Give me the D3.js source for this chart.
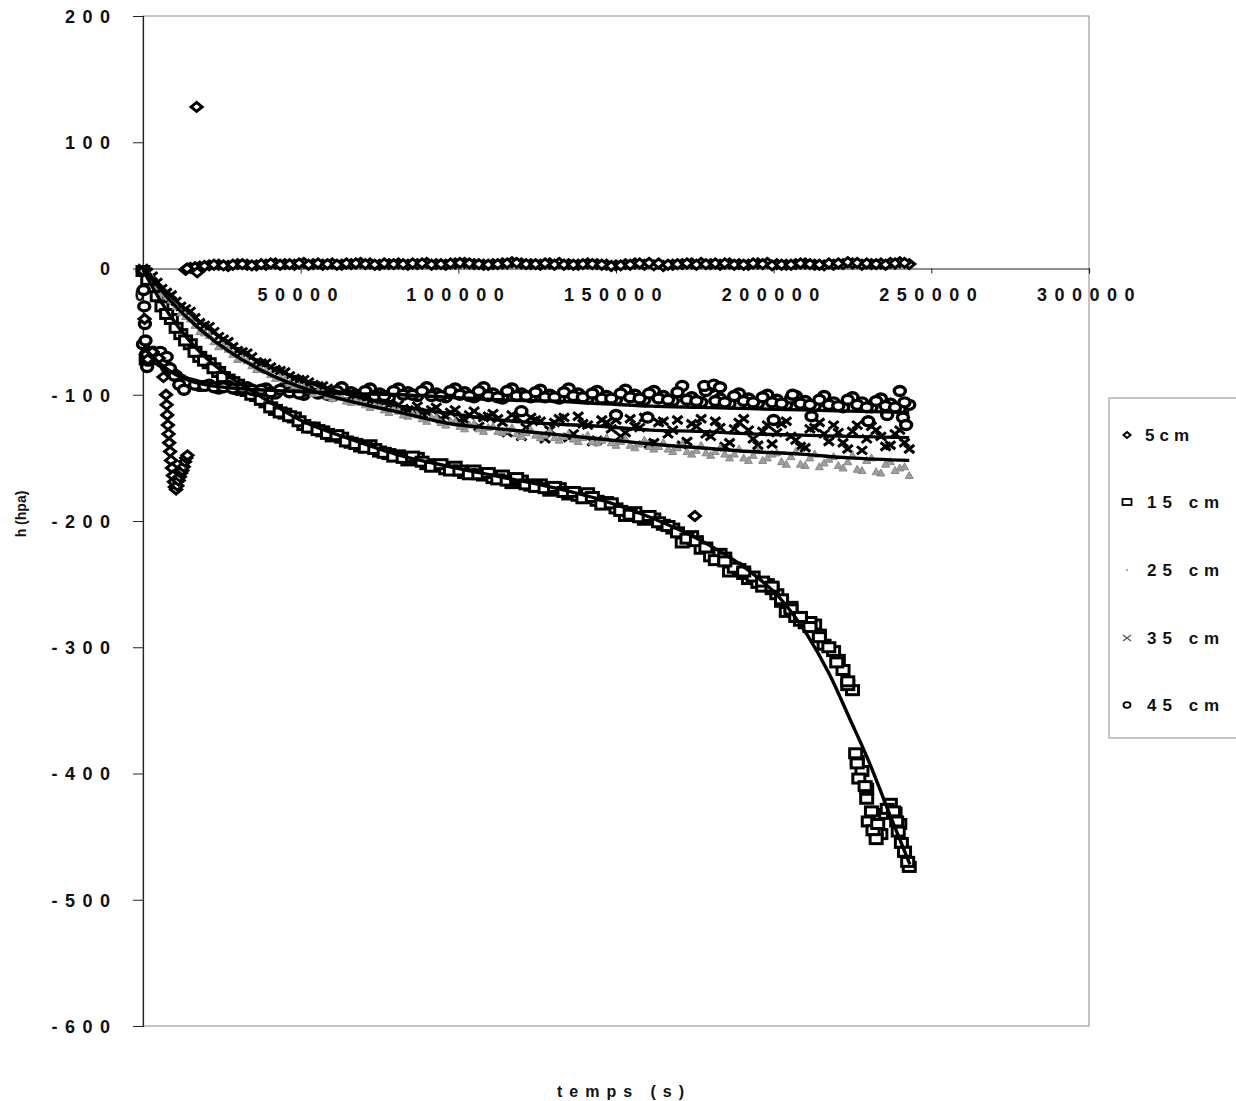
<!DOCTYPE html>
<html><head><meta charset="utf-8">
<script src="https://cdn.jsdelivr.net/npm/d3@7/dist/d3.min.js"></script>
<style>
html,body{margin:0;padding:0;background:#fff;}
svg text{font-family:"Liberation Sans",Arial,sans-serif;font-weight:bold;fill:#111;}
</style></head><body>
<svg id="chart" width="1236" height="1101"></svg>
<script>
// ---------- DATA ----------
const seriesNames = ["5cm", "15 cm", "25 cm", "35 cm", "45 cm"];
const xTicks = [0, 50000, 100000, 150000, 200000, 250000, 300000];
const yTicks = [200, 100, 0, -100, -200, -300, -400, -500, -600];
const xTitle = "temps (s)";
const yTitle = "h (hpa)";

// sampling times (s)
const tGrid = [0,3000,6000,9000,12000,15000,18000,21000,24000,27000,30000,33000,36000,39000,42000,45000,48000,51000,54000,57000,60000,63000,66000,69000,72000,75000,78000,81000,84000,87000,90000,93000,96000,99000,102000,105000,108000,111000,114000,117000,120000,123000,126000,129000,132000,135000,138000,141000,144000,147000,150000,153000,156000,159000,162000,165000,168000,171000,174000,177000,180000,183000,186000,189000,192000,195000,198000,201000,204000,207000,210000,213000,216000,219000,222000,225000,228000,231000,234000,237000,240000,243000];
const tHalf = [1500,4500,7500,10500,13500,16500,19500,22500,25500,28500,31500,34500,37500,40500,43500,46500,49500,52500,55500,58500,61500,64500,67500,70500,73500,76500,79500,82500,85500,88500,91500,94500,97500,100500,103500,106500,109500,112500,115500,118500,121500,124500,127500,130500,133500,136500,139500,142500,145500,148500,151500,154500,157500,160500,163500,166500,169500,172500,175500,178500,181500,184500,187500,190500,193500,196500,199500,202500,205500,208500,211500,214500,217500,220500,223500,226500,229500,232500,235500,238500,241500];

// 5 cm (diamonds)
const h5 = [null,null,null,null,null,0.5,1.5,2.5,3,2,3.5,3,2.5,3,4,3.5,3,4.5,3.5,3,4,3,3.5,4.5,4,3,3.5,4,3,3.5,4.5,3.5,3,4,4.5,3.5,3,3.5,4,5,4,3.5,3,4,4.5,3.5,3,4,3.5,3,2.5,3.5,4,3,2.5,2,3,3.5,4,4.5,3.5,3,4,3.5,3,4,4.5,3.5,3,3.5,4,3,2.5,3,3.5,4,3,3.5,4,4.5,5,3.5];
const h5b = [null,null,null,null,null,1,2,3,2.5,3,3.5,2.5,3.5,4,3,3.5,4,3,4,3.5,3,4,4,3.5,3,4,3.5,3.5,4,4,3,3.5,4,4.5,4,3.5,3,3.5,4,4.5,3.5,3.5,4,3,3,3,3.5,3.5,3,2,2.5,3,4,4.5,4,3,3.5,4,3,3.5,4,4,3,3,4,3.5,2.5,3,3,4,3.5,3,4,4,5,4.5,4,3.5,3,4,4.5];
const early5 = [[0,-2],[500,-40],[1000,-68],[1500,-72],[3000,-66],[5000,-71],[6500,-86],[7300,-100],[7500,-108],[7700,-116],[7900,-124],[8100,-131],[8300,-138],[8600,-145],[8900,-152],[9200,-158],[9500,-164],[9800,-169],[10100,-173],[10500,-175],[10900,-172],[11300,-168],[11700,-165],[12100,-162],[12500,-160],[12900,-157],[13300,-153],[13700,-150],[14100,-148],[13500,-1],[14000,0]];
const outliers5 = [[17000,128],[17200,-3],[175000,-196]];

// 15 cm (squares)
const h15 = [-2,-15,-30,-40,-52,-60,-70,-75,-82,-88,-92,-97,-101,-106,-112,-115,-118,-124,-126,-129,-133,-134,-138,-141,-140,-145,-147,-148,-152,-150,-155,-156,-159,-157,-162,-160,-164,-166,-164,-170,-168,-172,-171,-176,-174,-179,-180,-178,-184,-185,-190,-196,-193,-199,-198,-203,-206,-217,-212,-222,-228,-226,-240,-238,-246,-249,-250,-258,-272,-276,-281,-282,-298,-303,-318,-334,-398,-430,-448,-424,-440,-474];
const h15b = [-9,-22,-36,-47,-57,-66,-73,-79,-86,-90,-95,-100,-104,-110,-114,-117,-121,-126,-128,-131,-132,-137,-139,-142,-143,-146,-149,-150,-149,-153,-157,-155,-160,-160,-163,-163,-162,-167,-168,-166,-171,-173,-174,-173,-177,-177,-182,-181,-187,-186,-192,-195,-197,-196,-201,-204,-209,-214,-216,-221,-231,-229,-237,-242,-244,-252,-254,-264,-268,-279,-280,-290,-300,-310,-330,-390,-412,-446,-432,-431,-462];
const extra15 = [[1000,-72],[1800,-66],[184500,-232],[190500,-240],[196500,-248],[199500,-252],[202500,-262],[205500,-270],[208500,-276],[211500,-284],[214500,-292],[220000,-312],[223500,-327],[226000,-384],[226500,-392],[227000,-404],[229000,-410],[229500,-420],[230000,-438],[231500,-445],[232500,-452],[233000,-440],[236000,-428],[238000,-430],[239000,-438],[239500,-446],[240500,-455],[241500,-462],[242500,-470]];

// 25 cm (grey)
const h25 = [0,-8,-20,-25,-35,-40,-50,-53,-62,-64,-72,-73,-80,-81,-87,-88,-93,-94,-99,-98,-103,-102,-106,-106,-110,-109,-114,-113,-117,-116,-121,-118,-124,-121,-127,-123,-129,-125,-130,-126,-133,-128,-134,-129,-136,-131,-137,-132,-138,-134,-140,-135,-142,-136,-143,-138,-145,-139,-147,-140,-148,-142,-150,-143,-152,-144,-150,-146,-155,-145,-156,-147,-154,-149,-158,-148,-160,-150,-162,-153,-158,-164];
const h25b = [-4,-14,-22,-30,-38,-45,-51,-58,-61,-68,-71,-77,-80,-84,-86,-91,-93,-96,-97,-101,-101,-105,-104,-108,-108,-112,-111,-116,-115,-119,-118,-122,-121,-125,-124,-127,-126,-129,-128,-131,-130,-132,-132,-134,-133,-135,-134,-137,-136,-138,-137,-140,-139,-141,-141,-143,-142,-145,-144,-146,-145,-147,-147,-150,-148,-152,-147,-153,-149,-155,-150,-157,-151,-156,-153,-159,-152,-161,-155,-160,-157];

// 35 cm (crosses)
const h35 = [0,-6,-16,-21,-30,-34,-43,-46,-54,-58,-65,-67,-74,-75,-80,-82,-87,-88,-92,-93,-97,-97,-101,-101,-105,-104,-108,-108,-112,-109,-114,-110,-117,-112,-120,-113,-118,-115,-122,-116,-133,-118,-121,-128,-119,-134,-117,-124,-136,-122,-120,-130,-125,-118,-138,-121,-128,-140,-123,-119,-133,-126,-138,-122,-128,-140,-124,-130,-121,-136,-142,-126,-131,-124,-138,-129,-144,-125,-133,-140,-128,-143];
const h35b = [-3,-11,-19,-26,-32,-39,-45,-50,-56,-62,-66,-70,-75,-78,-81,-85,-88,-90,-93,-95,-98,-99,-103,-102,-106,-106,-110,-111,-113,-115,-112,-119,-114,-121,-116,-125,-117,-119,-130,-118,-126,-120,-135,-122,-118,-131,-123,-137,-120,-127,-133,-119,-126,-139,-122,-131,-120,-137,-125,-131,-121,-141,-127,-119,-135,-129,-139,-123,-133,-141,-127,-122,-137,-130,-143,-124,-135,-128,-141,-131,-138];

// 45 cm (circles)
const h45 = [-60,-70,-74,-82,-88,-91,-93,-92,-95,-93,-96,-94,-97,-95,-99,-94,-97,-100,-94,-98,-101,-94,-98,-101,-95,-99,-102,-95,-98,-101,-94,-99,-102,-95,-98,-102,-94,-99,-103,-95,-99,-102,-96,-100,-103,-95,-99,-103,-97,-101,-104,-96,-100,-104,-97,-101,-105,-93,-102,-106,-94,-103,-107,-99,-103,-107,-100,-104,-108,-101,-105,-109,-101,-106,-110,-102,-106,-110,-103,-107,-111,-108];
const h45b = [-66,-72,-78,-85,-90,-92,-93,-94,-94,-95,-95,-96,-96,-98,-96,-98,-99,-97,-99,-100,-97,-100,-100,-97,-101,-101,-97,-100,-100,-97,-101,-101,-97,-100,-101,-97,-101,-102,-97,-101,-101,-98,-102,-102,-98,-101,-102,-99,-103,-103,-99,-102,-103,-99,-103,-104,-98,-104,-105,-97,-105,-106,-101,-105,-106,-102,-106,-107,-103,-107,-108,-104,-108,-109,-104,-108,-110,-105,-109,-110,-106];
const extra45 = [[200,-17],[400,-30],[600,-44],[800,-57],[1000,-68],[1300,-78],[1600,-73],[5500,-66],[6500,-74],[7500,-70],[8500,-79],[10000,-85],[11500,-92],[13000,-96],[120000,-113],[150000,-116],[160000,-118],[178000,-93],[181000,-92],[183000,-94],[200000,-120],[206000,-100],[212000,-117],[230000,-121],[236000,-116],[240000,-97],[241000,-118],[242000,-124]];

// fitted curves
const fit15 = [[0,-1],[5400,-25],[11700,-48],[18000,-66],[27600,-86],[37100,-101],[49800,-120],[65600,-135],[81500,-148],[97400,-157],[113200,-165],[129100,-173],[144900,-183],[160800,-197],[176600,-215],[192500,-240],[202000,-261],[210600,-290],[217800,-322],[224200,-357],[229600,-387],[236900,-433],[243200,-472]];
const fit25 = [[0,0],[8500,-25],[18000,-48],[27500,-66],[37000,-80],[50000,-94],[65500,-105],[81500,-114],[97500,-123],[113000,-127],[129000,-131],[145000,-135],[161000,-139],[176500,-142],[192500,-145],[208500,-147],[224000,-150],[243000,-152]];
const fit35 = [[0,0],[8500,-21],[18000,-42],[27500,-60],[37000,-74],[50000,-88],[65500,-100],[81500,-109],[97500,-115],[113000,-120],[129000,-123],[145000,-125],[161000,-128],[176500,-129],[192500,-131],[208500,-132],[224000,-133],[243000,-134]];
const fit45 = [[0,-62],[4000,-72],[9000,-82],[15000,-89],[22000,-93],[30000,-95],[45000,-97],[65000,-99],[81500,-100],[97500,-102],[113000,-104],[129000,-105],[145000,-107],[161000,-109],[176500,-110],[192500,-111],[208500,-112],[224000,-113],[243000,-114]];

// ---------- CHART ----------
const svg = d3.select("#chart");
const L = 143, R = 1089, T = 16, B = 1026;
const x = d3.scaleLinear().domain([0, 300000]).range([L, R]);
const y = d3.scaleLinear().domain([-600, 200]).range([B, T]);
const FONT = '"Liberation Sans", Arial, sans-serif';

// plot area frame
svg.append("rect").attr("x", L).attr("y", T).attr("width", R - L).attr("height", B - T)
  .attr("fill", "none").attr("stroke", "#8a8a8a").attr("stroke-width", 1);

// y axis
const yAxis = svg.append("g").attr("transform", `translate(${L},0)`)
  .call(d3.axisLeft(y).tickValues(yTicks).tickSize(10).tickFormat(d => String(d)));
yAxis.select(".domain").attr("stroke", "#222").attr("stroke-width", 1.2);
yAxis.selectAll(".tick line").attr("stroke", "#222");
yAxis.selectAll(".tick text").attr("x", -25.5).attr("dy", "0.36em")
  .style("font-size", "18px").style("letter-spacing", "7.5px").style("font-family", FONT).style("font-weight", "bold").attr("fill", "#111");

// x axis at h = 0
const xAxis = svg.append("g").attr("transform", `translate(0,${y(0)})`)
  .call(d3.axisBottom(x).tickValues(xTicks).tickSize(5).tickPadding(15).tickFormat(d => String(d)));
xAxis.select(".domain").attr("stroke", "#222").attr("stroke-width", 1.2);
xAxis.selectAll(".tick line").attr("stroke", "#222");
xAxis.selectAll(".tick text").attr("dx", "0")
  .style("font-size", "18px").style("letter-spacing", "7.5px").style("font-family", FONT).style("font-weight", "bold").attr("fill", "#111");

// assemble points
const pts = (ts, h) => ts.map((t, i) => [t, h[i]]).filter(d => d[1] !== null);
const d5 = pts(tGrid, h5).concat(pts(tHalf, h5b), early5, outliers5);
const d15 = pts(tGrid, h15).concat(pts(tHalf, h15b), extra15);
const d25 = pts(tGrid, h25).concat(pts(tHalf, h25b));
const d35 = pts(tGrid, h35).concat(pts(tHalf, h35b));
const d45 = pts(tGrid, h45).concat(pts(tHalf, h45b), extra45);

const plot = svg.append("g");

// markers
function diamond(g, data) {
  g.selectAll(null).data(data).enter().append("path")
    .attr("d", d => `M${x(d[0])},${y(d[1]) - 4.5}L${x(d[0]) + 5.5},${y(d[1])}L${x(d[0])},${y(d[1]) + 4.5}L${x(d[0]) - 5.5},${y(d[1])}Z`)
    .attr("fill", "#fff").attr("stroke", "#000").attr("stroke-width", 3);
}
function square(g, data) {
  g.selectAll(null).data(data).enter().append("rect")
    .attr("x", d => x(d[0]) - 6).attr("y", d => y(d[1]) - 4.5).attr("width", 12).attr("height", 9)
    .attr("fill", "#fff").attr("stroke", "#000").attr("stroke-width", 3);
}
function greyMark(g, data) {
  g.selectAll(null).data(data).enter().append("path")
    .attr("d", d => `M${x(d[0]) - 4},${y(d[1]) + 3}L${x(d[0])},${y(d[1]) - 4}L${x(d[0]) + 4},${y(d[1]) + 3}Z`)
    .attr("fill", "#a0a0a0").attr("stroke", "#888").attr("stroke-width", 1);
}
function cross(g, data) {
  g.selectAll(null).data(data).enter().append("path")
    .attr("d", d => `M${x(d[0]) - 5},${y(d[1]) - 4}L${x(d[0]) + 5},${y(d[1]) + 4}M${x(d[0]) - 5},${y(d[1]) + 4}L${x(d[0]) + 5},${y(d[1]) - 4}`)
    .attr("fill", "none").attr("stroke", "#000").attr("stroke-width", 3);
}
function circle(g, data) {
  g.selectAll(null).data(data).enter().append("ellipse")
    .attr("cx", d => x(d[0])).attr("cy", d => y(d[1])).attr("rx", 5.5).attr("ry", 4.5)
    .attr("fill", "#fff").attr("stroke", "#000").attr("stroke-width", 3.4);
}

square(plot.append("g"), d15);
cross(plot.append("g"), d35);
circle(plot.append("g"), d45);
greyMark(plot.append("g"), d25);
diamond(plot.append("g"), d5);

// fitted lines
const line = d3.line().x(d => x(d[0])).y(d => y(d[1])).curve(d3.curveMonotoneX);
[fit15, fit25, fit35, fit45].forEach(f => {
  plot.append("path").datum(f).attr("d", line).attr("fill", "none")
    .attr("stroke", "#000").attr("stroke-width", 3.4);
});

// axis titles
svg.append("text").attr("x", 624).attr("y", 1097).attr("text-anchor", "middle")
  .style("font-size", "16px").style("letter-spacing", "7px").text(xTitle);
svg.append("text").attr("transform", "translate(26,514) rotate(-90)").attr("text-anchor", "middle")
  .style("font-size", "14px").text(yTitle);

// legend
const lg = svg.append("g");
lg.append("rect").attr("x", 1109).attr("y", 398).attr("width", 140).attr("height", 340)
  .attr("fill", "#fff").attr("stroke", "#8a8a8a").attr("stroke-width", 1);
const legY = [435, 502, 570, 638, 705];
const legMark = [
  (g, cx, cy) => g.append("path").attr("d", `M${cx},${cy - 3}L${cx + 3.5},${cy}L${cx},${cy + 3}L${cx - 3.5},${cy}Z`).attr("fill", "#fff").attr("stroke", "#000").attr("stroke-width", 2),
  (g, cx, cy) => g.append("rect").attr("x", cx - 4.5).attr("y", cy - 3).attr("width", 9).attr("height", 6).attr("fill", "#fff").attr("stroke", "#000").attr("stroke-width", 1.8),
  (g, cx, cy) => g.append("circle").attr("cx", cx).attr("cy", cy).attr("r", 1.2).attr("fill", "#aaa"),
  (g, cx, cy) => g.append("path").attr("d", `M${cx - 4},${cy - 3}L${cx + 4},${cy + 3}M${cx - 4},${cy + 3}L${cx + 4},${cy - 3}`).attr("stroke", "#555").attr("stroke-width", 1.3),
  (g, cx, cy) => g.append("ellipse").attr("cx", cx).attr("cy", cy).attr("rx", 3.5).attr("ry", 2.8).attr("fill", "#fff").attr("stroke", "#000").attr("stroke-width", 1.8)
];
seriesNames.forEach((n, i) => {
  legMark[i](lg, 1127, legY[i]);
  lg.append("text").attr("x", i === 0 ? 1145 : 1147).attr("y", legY[i]).attr("dy", "0.36em")
    .style("font-size", "17px").style("letter-spacing", i === 0 ? "5px" : "6px").text(n);
});
</script>
</body></html>
